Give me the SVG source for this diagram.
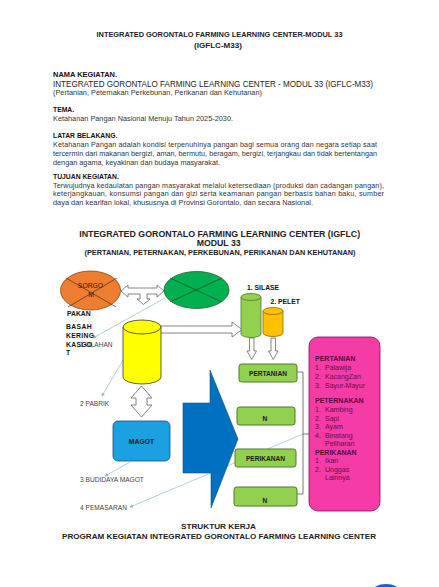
<svg xmlns="http://www.w3.org/2000/svg" width="439" height="587" viewBox="0 0 439 587">
<defs>
<style>
text{font-family:"Liberation Sans",Arial,sans-serif;fill:#222}
.b{font-weight:bold}
.t{font-size:7.2px;fill:#333}
.h{font-size:6.8px;font-weight:bold;fill:#111}
.lbl{font-size:6.6px;fill:#444}
.box{fill:#92D050;stroke:#4E7A2A;stroke-width:1}
.bt{font-size:6.6px;font-weight:bold;fill:#1a1a1a;text-anchor:middle}
.pk{font-size:7px;fill:#6B0F45}
.pkb{font-size:7px;font-weight:bold;fill:#5A0838}
.wa{fill:#fff;stroke:#666;stroke-width:0.8}
.cn{stroke:#A8C8E4;stroke-width:0.9;fill:none}
</style>
<marker id="ah" viewBox="0 0 6 6" refX="5" refY="3" markerWidth="4" markerHeight="4" orient="auto"><path d="M0,0 L6,3 L0,6 Z" fill="#8FB6DA"/></marker>
</defs>

<g id="header">
<text class="b" x="219.5" y="37.3" font-size="7.4" text-anchor="middle" textLength="246" lengthAdjust="spacingAndGlyphs">INTEGRATED GORONTALO FARMING LEARNING CENTER-MODUL 33</text>
<text class="b" x="218" y="48" font-size="7.4" text-anchor="middle" textLength="48" lengthAdjust="spacingAndGlyphs">(IGFLC-M33)</text>
<text class="h" x="53" y="76.7" textLength="64" lengthAdjust="spacingAndGlyphs">NAMA KEGIATAN.</text>
<text x="53" y="86.7" font-size="8.2" fill="#333" textLength="320" lengthAdjust="spacingAndGlyphs">INTEGRATED GORONTALO FARMING LEARNING CENTER - MODUL 33 (IGFLC-M33)</text>
<text class="t" x="53" y="95.3" textLength="209" lengthAdjust="spacingAndGlyphs">(Pertanian, Peternakan Perkebunan, Perikanan dan Kehutanan)</text>
<text class="h" x="53" y="112">TEMA.</text>
<text class="t" x="53" y="121" textLength="180" lengthAdjust="spacingAndGlyphs">Ketahanan Pangan Nasional Menuju Tahun 2025-2030.</text>
<text class="h" x="53" y="138">LATAR BELAKANG.</text>
<text class="t" x="53" y="147.3" textLength="324" lengthAdjust="spacing">Ketahanan Pangan adalah kondisi terpenuhinya pangan bagi semua orang dan negara setiap saat</text>
<text class="t" x="53" y="156.3" textLength="324" lengthAdjust="spacingAndGlyphs">tercermin dari makanan bergizi, aman, bermutu, beragam, bergizi, terjangkau dan tidak bertentangan</text>
<text class="t" x="53" y="165.3" textLength="167" lengthAdjust="spacingAndGlyphs">dengan agama, keyakinan dan budaya masyarakat.</text>
<text class="h" x="53" y="178.7">TUJUAN KEGIATAN.</text>
<text class="t" x="53" y="187.5" textLength="331" lengthAdjust="spacing">Terwujudnya kedaulatan pangan masyarakat melalui ketersediaan (produksi dan cadangan pangan),</text>
<text class="t" x="53" y="196.3" textLength="331" lengthAdjust="spacing">keterjangkauan, konsumsi pangan dan gizi serta keamanan pangan berbasis bahan baku, sumber</text>
<text class="t" x="53" y="205" textLength="260" lengthAdjust="spacingAndGlyphs">daya dan kearifan lokal, khususnya di Provinsi Gorontalo, dan secara Nasional.</text>
</g>

<g id="diagram-title">
<text class="b" x="219.7" y="237.3" font-size="8.2" text-anchor="middle" textLength="281" lengthAdjust="spacingAndGlyphs">INTEGRATED GORONTALO FARMING LEARNING CENTER (IGFLC)</text>
<text class="b" x="218.7" y="246.3" font-size="8.2" text-anchor="middle" textLength="44" lengthAdjust="spacingAndGlyphs">MODUL 33</text>
<text class="b" x="220" y="255.3" font-size="6.4" text-anchor="middle" textLength="271" lengthAdjust="spacingAndGlyphs">(PERTANIAN, PETERNAKAN, PERKEBUNAN, PERIKANAN DAN KEHUTANAN)</text>
</g>

<g id="connectors">
<path class="cn" d="M165,298 L93,338" marker-end="url(#ah)"/>
<path class="cn" d="M123,360 L102,396" marker-end="url(#ah)"/>
<path class="cn" d="M130,462 L105,476" marker-end="url(#ah)"/>
<path class="cn" d="M303,434 L130,507" marker-end="url(#ah)"/>
<path d="M297,372 L303,372 L303,494 L297,494 M303,434 L309,434" fill="none" stroke="#555" stroke-width="0.8"/>
<path class="wa" d="M121,291 L128,285 L128,288 L157,288 L157,285 L164,291 L157,297 L157,294 L147,294 L147,299 L150,299 L143.5,304.5 L137,299 L140,299 L140,294 L128,294 L128,297 Z"/>
<path class="wa" d="M153,326 L232,326 L232,322 L242,329.5 L232,337 L232,333 L153,333 Z"/>
<path class="wa" d="M249.5,338 L254,338 L254,351 L256.5,351 L251.75,359.5 L247,351 L249.5,351 Z"/>
<path class="wa" d="M271,338 L275.5,338 L275.5,351 L278,351 L273.25,359.5 L268.5,351 L271,351 Z"/>
<path class="wa" d="M141.5,386 L152,398 L147,398 L147,405 L152,405 L141.5,417 L131,405 L136,405 L136,398 L131,398 Z"/>
</g>

<g id="sorgo">
<ellipse cx="90.5" cy="290.5" rx="30" ry="19.5" fill="#ED7D31" stroke="#8A4413" stroke-width="0.8"/>
<path d="M66,278 L116,307 M68,307 L117,278" stroke="#5A2A08" stroke-width="0.7"/>
<text x="90.5" y="287.5" font-size="6.8" fill="#7a3a10" text-anchor="middle">SORGO</text>
<text x="91" y="296.5" font-size="6.8" fill="#7a3a10" text-anchor="middle">M</text>
</g>

<g id="hijauan">
<ellipse cx="196.5" cy="290" rx="32.5" ry="18.5" fill="#00B050" stroke="#1E5C32" stroke-width="0.8"/>
<path d="M170,278 L222,302 M170,302 L222,278" stroke="#1E4A2A" stroke-width="0.7"/>
</g>

<g id="pakan-labels">
<text class="h" x="67" y="315.5" font-size="7">PAKAN</text>
<text class="h" x="66" y="328.5" font-size="7" letter-spacing="0.4">BASAH</text>
<text class="h" x="66" y="337.5" font-size="7" letter-spacing="0.3">KERING</text>
<text class="lbl" x="80" y="346.5" font-size="7">1 OLAHAN</text>
<text class="h" x="66" y="346.5" font-size="7" letter-spacing="0.3">KASGO</text>
<text class="h" x="66" y="355" font-size="7">T</text>
</g>

<g id="kasgot">
<path d="M123,327 L123,377 A19,7 0 0 0 161,377 L161,327 Z" fill="#FFFF00" stroke="#333" stroke-width="0.8"/>
<ellipse cx="142" cy="327" rx="19" ry="7" fill="#FFFF00" stroke="#333" stroke-width="0.8"/>
</g>

<g id="silase">
<path d="M241,297 L241,334 A10,3.5 0 0 0 261,334 L261,297 Z" fill="#92D050" stroke="#4E7A2A" stroke-width="0.8"/>
<ellipse cx="251" cy="297" rx="10" ry="3.5" fill="#92D050" stroke="#4E7A2A" stroke-width="0.8"/>
<text class="h" x="247" y="289.5" font-size="7">1.  SILASE</text>
</g>

<g id="pelet">
<path d="M263,311 L263,333 A10,3.5 0 0 0 283,333 L283,311 Z" fill="#FFC000" stroke="#8A6A00" stroke-width="0.8"/>
<ellipse cx="273" cy="311" rx="10" ry="3.5" fill="#FFC000" stroke="#8A6A00" stroke-width="0.8"/>
<text class="h" x="270.5" y="303.5" font-size="7">2.  PELET</text>
</g>

<g id="side-labels">
<text class="lbl" x="80" y="405.5">2 PABRIK</text>
<text class="lbl" x="80" y="481.5">3 BUDIDAYA MAGOT</text>
<text class="lbl" x="80" y="510">4 PEMASARAN</text>
</g>

<g id="magot">
<rect x="113" y="421" width="57" height="40" rx="5" fill="#1BA1E2" stroke="#1F4E79" stroke-width="0.8"/>
<text x="141.5" y="443.5" font-size="6.8" font-weight="bold" fill="#0B2B55" text-anchor="middle">MAGOT</text>
</g>

<g id="big-arrow">
<path d="M183,403 L210,403 L210,370 L238,439 L211,508 L211,473 L183,473 Z" fill="#0070C0" stroke="#1F4E79" stroke-width="0.6"/>
</g>

<g id="box-pertanian">
<rect class="box" x="239" y="364" width="58" height="18" rx="2.5"/>
<text class="bt" x="268" y="375.5">PERTANIAN</text>
</g>
<g id="box-n1">
<rect class="box" x="237" y="407" width="58" height="18" rx="2.5"/>
<text class="bt" x="265" y="421">N</text>
</g>
<g id="box-perikanan">
<rect class="box" x="235" y="449" width="61" height="18" rx="2.5"/>
<text class="bt" x="265.5" y="460.5">PERIKANAN</text>
</g>
<g id="box-n2">
<rect class="box" x="234" y="487" width="63" height="19" rx="2.5"/>
<text class="bt" x="265" y="502.5">N</text>
</g>

<g id="komoditas">
<rect x="309" y="337" width="71" height="174" rx="9" fill="#F43BA6" stroke="#7A1550" stroke-width="0.8"/>
<text class="pkb" x="315" y="361">PERTANIAN</text>
<text class="pk" x="315" y="370">1.</text><text class="pk" x="325" y="370">Palawija</text>
<text class="pk" x="315" y="379">2.</text><text class="pk" x="325" y="379">KacangZan</text>
<text class="pk" x="315" y="388">3.</text><text class="pk" x="325" y="388">Sayur-Mayur</text>
<text class="pkb" x="315" y="403">PETERNAKAN</text>
<text class="pk" x="315" y="412">1.</text><text class="pk" x="325" y="412">Kambing</text>
<text class="pk" x="315" y="420.5">2.</text><text class="pk" x="325" y="420.5">Sapi</text>
<text class="pk" x="315" y="429">3.</text><text class="pk" x="325" y="429">Ayam</text>
<text class="pk" x="315" y="437.5">4.</text><text class="pk" x="325" y="437.5">Binatang</text>
<text class="pk" x="325" y="445.5">Peliharan</text>
<text class="pkb" x="315" y="454.5">PERIKANAN</text>
<text class="pk" x="315" y="463">1.</text><text class="pk" x="325" y="463">Ikan</text>
<text class="pk" x="315" y="471.5">2.</text><text class="pk" x="325" y="471.5">Unggas</text>
<text class="pk" x="325" y="480">Lainnya</text>
</g>

<g id="footer">
<text class="b" x="218.5" y="529" font-size="7.4" text-anchor="middle" textLength="75" lengthAdjust="spacingAndGlyphs">STRUKTUR KERJA</text>
<text class="b" x="219" y="539.3" font-size="7.4" text-anchor="middle" textLength="314" lengthAdjust="spacingAndGlyphs">PROGRAM KEGIATAN INTEGRATED GORONTALO FARMING LEARNING CENTER</text>
<ellipse cx="386" cy="592" rx="14" ry="8" fill="#1A5FC8"/>
</g>
</svg>
